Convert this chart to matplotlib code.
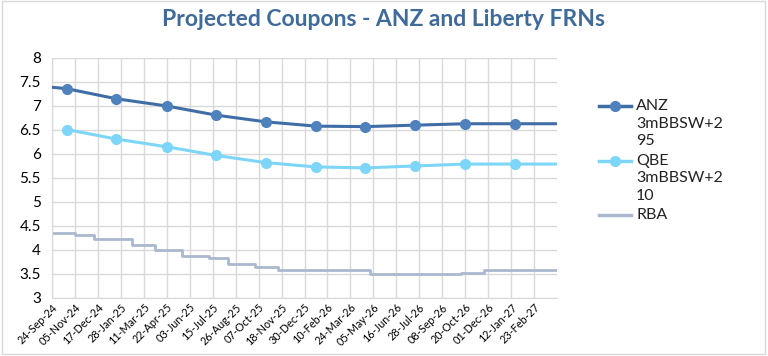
import numpy as np
import matplotlib
matplotlib.use("Agg")
import matplotlib.pyplot as plt
import matplotlib.dates as mdates
from matplotlib.patches import Rectangle
from matplotlib.lines import Line2D

plt.rcParams['font.family'] = ['Lato', 'DejaVu Sans']

# axis range and ticks (42 day steps, like the Excel date axis)
axis_start = np.datetime64('2024-09-24')
axis_end = np.datetime64('2027-04-06')
tick_dates = axis_start + np.arange(22) * np.timedelta64(42, 'D')

# coupon dates (markers)
coupon_dates = np.array(['2024-10-21', '2025-01-20', '2025-04-22', '2025-07-21',
                         '2025-10-20', '2026-01-20', '2026-04-20', '2026-07-20',
                         '2026-10-20', '2027-01-20'], dtype='datetime64[D]')

anz_start = 7.38
anz_coupons = [7.35, 7.14, 6.99, 6.80, 6.66, 6.57, 6.56, 6.59, 6.62, 6.62]
anz_end = 6.62

qbe_coupons = [6.50, 6.30, 6.14, 5.96, 5.81, 5.72, 5.70, 5.74, 5.78, 5.78]
qbe_end = 5.78

# RBA cash rate path (step changes)
rba_dates = np.array(['2024-09-24', '2024-11-05', '2024-12-10', '2025-02-18',
                      '2025-04-01', '2025-05-20', '2025-07-08', '2025-08-12',
                      '2025-09-30', '2025-11-12', '2026-04-28', '2026-09-01',
                      '2026-10-13', '2026-11-24', '2027-04-06'], dtype='datetime64[D]')
rba_values = [4.35, 4.30, 4.22, 4.10, 4.00, 3.87, 3.82, 3.70, 3.63, 3.57,
              3.49, 3.50, 3.52, 3.58, 3.58]

anz_label = ["ANZ", "3mBBSW+2", "95"]
qbe_label = ["QBE", "3mBBSW+2", "10"]
rba_label = ["RBA"]

anz_line = '#3f6ea6'
anz_mark = '#4f81bd'
qbe_col = '#7dd6f7'
rba_col = '#aab9cf'

fig = plt.figure(figsize=(7.68, 3.56), dpi=100)
ax = fig.add_axes([52/768, 1 - 297.5/356, 505/768, 240/356])

anz_x = np.concatenate([[axis_start], coupon_dates, [axis_end]])
anz_y = [anz_start] + anz_coupons + [anz_end]
ax.plot(anz_x, anz_y, color=anz_line, lw=2.2, marker='o', ms=7,
        mfc=anz_mark, mec=anz_mark, markevery=list(range(1, 11)), zorder=4)

qbe_x = np.concatenate([coupon_dates, [axis_end]])
qbe_y = qbe_coupons + [qbe_end]
ax.plot(qbe_x, qbe_y, color=qbe_col, lw=2.2, marker='o', ms=7,
        mfc=qbe_col, mec=qbe_col, markevery=list(range(0, 10)), zorder=3)

ax.plot(rba_dates, rba_values, color=rba_col, lw=2.0, drawstyle='steps-post',
        zorder=2)

ax.set_xlim(axis_start, axis_end)
ax.set_ylim(3, 8)
ax.set_yticks(np.arange(3, 8.01, 0.5))
ax.set_yticklabels(['3', '3.5', '4', '4.5', '5', '5.5', '6', '6.5', '7', '7.5', '8'])
ax.set_xticks(tick_dates)
ax.xaxis.set_major_formatter(mdates.DateFormatter('%d-%b-%y'))
plt.setp(ax.get_xticklabels(), rotation=45, ha='right', rotation_mode='anchor',
         fontsize=7.8)
ax.tick_params(axis='y', labelsize=11, length=0, pad=8)
ax.tick_params(axis='x', length=0, pad=3)
ax.grid(True, color='#d9d9d9', lw=1)
ax.set_axisbelow(True)
for s in ['top', 'right']:
    ax.spines[s].set_visible(False)
for s in ['left', 'bottom']:
    ax.spines[s].set_color('#d9d9d9')

fig.text(0.5, 1 - 20/356, "Projected Coupons - ANZ and Liberty FRNs", ha='center',
         va='center', fontsize=16.5, fontweight='bold', color='#3f6b9b')

# legend drawn by hand so the key sits on the first text line
def legend_entry(y_px, label, color, mcolor=None):
    y = 1 - y_px / 356
    fig.add_artist(Line2D([599/768, 631/768], [y, y], color=color, lw=2.5,
                          transform=fig.transFigure))
    if mcolor:
        fig.add_artist(Line2D([615/768], [y], color=mcolor, marker='o', ms=7,
                              transform=fig.transFigure))
    for i, line in enumerate(label):
        fig.text(636/768, 1 - (y_px + i * 17.5) / 356, line, ha='left',
                 va='center', fontsize=11.5, color='#222222')

legend_entry(106, anz_label, anz_line, anz_mark)
legend_entry(161, qbe_label, qbe_col, qbe_col)
legend_entry(215, rba_label, rba_col)

fig.patches.append(Rectangle((0.002, 0.006), 0.994, 0.99, transform=fig.transFigure,
                             fill=False, edgecolor='#d9d9d9', lw=1))

fig.savefig('out.png', dpi=100)
